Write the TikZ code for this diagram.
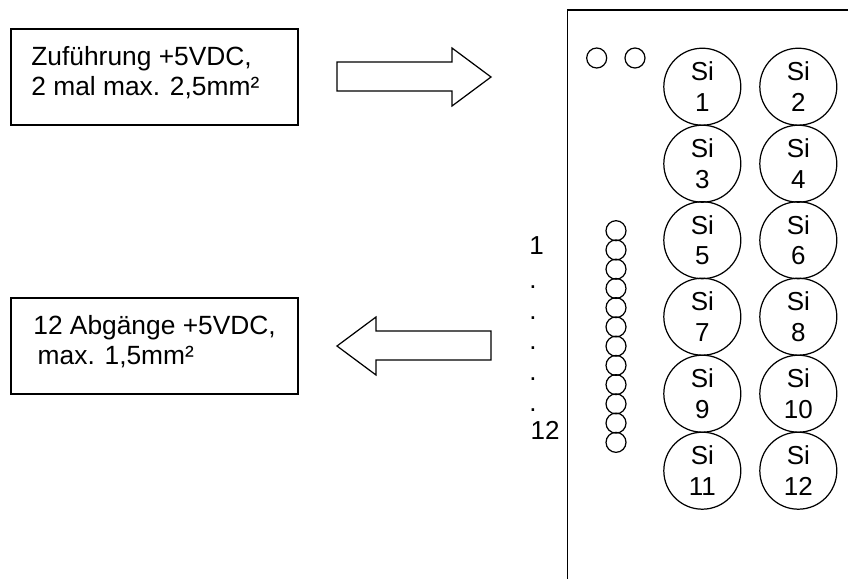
\documentclass[tikz,border=0pt]{standalone}
\usepackage{fontspec}
\setmainfont{Liberation Sans}
\usetikzlibrary{calc}
\tikzset{
	infobox/.style={draw,line width=0.9pt,minimum width=163.5pt,minimum height=54.4pt,inner sep=0pt},
	infotext/.style={anchor=north west,align=left,inner sep=0pt,font=\fontsize{15}{17}\selectfont},
	sicircle/.style={draw,circle,line width=0.7pt,minimum size=1.54cm,inner sep=0pt,align=center,font=\fontsize{14.8}{17.4}\selectfont},
	pin/.style={draw,circle,line width=0.7pt,minimum size=0.4cm,inner sep=0pt},
	numtext/.style={inner sep=0pt,font=\fontsize{14.8}{17}\selectfont},
}
\begin{document}
\begin{tikzpicture}[x=0.02cm,y=-0.02cm]
\useasboundingbox (0,0) rectangle (848,579);
\node[infobox] (feedbox) at (154.5,77) {};
\node[infotext] (feedtext) at (31,46) {Zuführung +5VDC,\\2 mal max. 2,5mm²};
\node[infobox] (outbox) at (154.5,346) {};
\node[infotext] (outtext) at (33,315) {12 Abgänge +5VDC,\\\hspace{2.5pt}max. 1,5mm²};

\draw[line width=0.7pt] (337,62) -- (452,62) -- (452,48) -- (491,77) -- (452,106) -- (452,91) -- (337,91) -- cycle;
\draw[line width=0.7pt] (491,331) -- (376,331) -- (376,317) -- (337,346) -- (376,375) -- (376,360) -- (491,360) -- cycle;

\draw[line width=0.9pt] (848,10) -- (567.5,10) -- (567.5,579);

\node[pin] (feed1) at (596.7,58) {};
\node[pin] (feed2) at (635,58) {};

\node[sicircle] (si1) at (702.3,86.7) {Si\\1};
\node[sicircle] (si2) at (798.3,86.7) {Si\\2};
\node[sicircle] (si3) at (702.3,163.7) {Si\\3};
\node[sicircle] (si4) at (798.3,163.7) {Si\\4};
\node[sicircle] (si5) at (702.3,240.2) {Si\\5};
\node[sicircle] (si6) at (798.3,240.2) {Si\\6};
\node[sicircle] (si7) at (702.3,316.7) {Si\\7};
\node[sicircle] (si8) at (798.3,316.7) {Si\\8};
\node[sicircle] (si9) at (702.3,393.7) {Si\\9};
\node[sicircle] (si10) at (798.3,393.7) {Si\\10};
\node[sicircle] (si11) at (702.3,470.7) {Si\\11};
\node[sicircle] (si12) at (798.3,470.7) {Si\\12};

\foreach \i in {0,...,11}{
	\node[pin] (out\i) at (616,230.7+19.24*\i) {};
}

\node[numtext] (first) at (536.5,246) {1};
\node[numtext] (dota) at (533,287) {.};
\node[numtext] (dotb) at (533,318) {.};
\node[numtext] (dotc) at (533,348) {.};
\node[numtext] (dotd) at (533,379) {.};
\node[numtext] (dote) at (533,410) {.};
\node[numtext] (last) at (545,430) {12};
\end{tikzpicture}
\end{document}
